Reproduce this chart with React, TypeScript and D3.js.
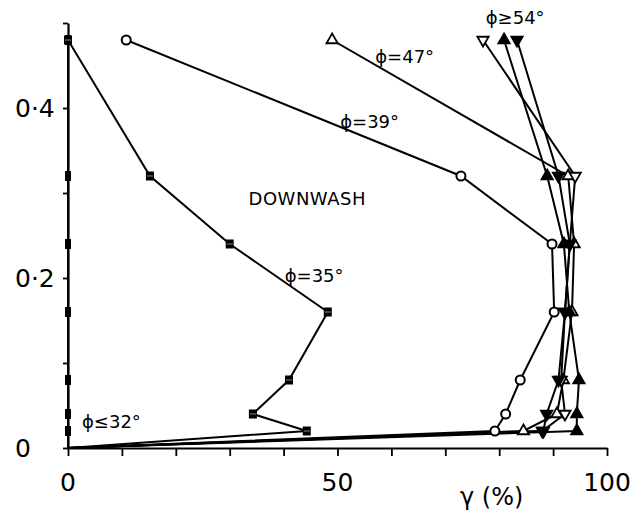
import { useEffect, useRef } from 'react'
import * as d3 from 'd3'

// gamma (%) against height, one list per series
const heights = [0.48, 0.32, 0.24, 0.16, 0.08, 0.04, 0.02, 0]
const phi32 = [0, 0, 0, 0, 0, 0, 0, 0]
const phi35 = [0, 15.2, 30, 48.2, 41, 34.3, 44.3, 0]
const phi39 = [10.8, 72.9, 89.8, 90.2, 83.9, 81.2, 79.2, 0]
const phi47 = [49, 92.8, 93.9, 93.5, 91.9, 90.7, 84.5, 0]
const phi54open = [77, 94.1, 93.1, 92.2, 91.5, 92.2, 88, 0]
const phi54up = [80.9, 88.9, 92, 93, 94.8, 94.4, 94.4, 0]
const phi54down = [83.3, 91, 93.1, 92.2, 91, 88.8, 88.2, 0]

const xTicks = [0, 10, 20, 30, 40, 50, 60, 70, 80, 90, 100]
const xLabels = [0, 50, 100]
const yTicks = [0, 0.1, 0.2, 0.3, 0.4, 0.5]
const yLabels = ['0', '0·2', '0·4']
const yLabelValues = [0, 0.2, 0.4]

type Marker = 'bar' | 'square' | 'circle' | 'triUp' | 'triDown' | 'triUpFill' | 'triDownFill'

const series: { values: number[]; marker: Marker }[] = [
  { values: phi32, marker: 'bar' },
  { values: phi35, marker: 'square' },
  { values: phi39, marker: 'circle' },
  { values: phi47, marker: 'triUp' },
  { values: phi54open, marker: 'triDown' },
  { values: phi54up, marker: 'triUpFill' },
  { values: phi54down, marker: 'triDownFill' },
]

const notes = [
  { text: 'ϕ≥54°', g: 77.5, h: 0.499 },
  { text: 'ϕ=47°', g: 57, h: 0.453 },
  { text: 'ϕ=39°', g: 50.5, h: 0.377 },
  { text: 'DOWNWASH', g: 33.5, h: 0.286 },
  { text: 'ϕ=35°', g: 40.2, h: 0.195 },
  { text: 'ϕ≤32°', g: 2.6, h: 0.023 },
]

const W = 631
const H = 517
const FONT = '"DejaVu Sans", sans-serif'

export default function App() {
  const ref = useRef<SVGSVGElement>(null)

  useEffect(() => {
    if (!ref.current) return
    const svg = d3.select(ref.current)
    svg.selectAll('*').remove()

    const x = d3.scaleLinear().domain([0, 100]).range([68, 607])
    const y = d3.scaleLinear().domain([0, 0.5]).range([448, 23])

    // axes
    const xAxis = svg
      .append('g')
      .attr('transform', `translate(0,${y(0)})`)
      .call(d3.axisBottom(x).tickValues(xTicks).tickSize(8).tickFormat(() => '').tickSizeOuter(0))
    xAxis.select('.domain').attr('stroke-width', 2.2)
    xAxis.selectAll('.tick line').attr('stroke-width', 1.8)

    const yAxis = svg
      .append('g')
      .attr('transform', `translate(${x(0)},0)`)
      .call(d3.axisLeft(y).tickValues(yTicks).tickSize(5).tickFormat(() => '').tickSizeOuter(0))
    yAxis.select('.domain').attr('stroke-width', 2.2)
    yAxis.selectAll('.tick line').attr('stroke-width', 1.8)

    svg
      .append('g')
      .selectAll('text')
      .data(xLabels)
      .join('text')
      .attr('x', (d) => x(d))
      .attr('y', 491)
      .attr('text-anchor', 'middle')
      .attr('font-family', FONT)
      .attr('font-size', 25)
      .text((d) => d)

    svg
      .append('g')
      .selectAll('text')
      .data(yLabelValues)
      .join('text')
      .attr('x', 15)
      .attr('y', (d) => y(d) + 9)
      .attr('font-family', FONT)
      .attr('font-size', 25)
      .text((_, i) => yLabels[i])

    svg
      .append('text')
      .attr('x', 460)
      .attr('y', 505)
      .attr('font-family', FONT)
      .attr('font-size', 24)
      .text('γ (%)')

    // lines
    const line = d3
      .line<number>()
      .x((d) => x(d))
      .y((_, i) => y(heights[i]))

    svg
      .append('g')
      .selectAll('path')
      .data(series)
      .join('path')
      .attr('d', (s) => line(s.values))
      .attr('fill', 'none')
      .attr('stroke', '#000')
      .attr('stroke-width', 2)

    // markers (not drawn at the wall point)
    const tri = d3.symbol().type(d3.symbolTriangle).size(55)()
    series.forEach((s) => {
      const g = svg.append('g')
      s.values.slice(0, heights.length - 1).forEach((v, i) => {
        const cx = x(v)
        const cy = y(heights[i])
        if (s.marker === 'bar') {
          g.append('rect').attr('x', cx - 3).attr('y', cy - 5).attr('width', 6).attr('height', 10).attr('fill', '#000')
        } else if (s.marker === 'square') {
          g.append('rect').attr('x', cx - 4).attr('y', cy - 4.5).attr('width', 8).attr('height', 9).attr('fill', '#000')
          g.append('line').attr('x1', cx - 3).attr('x2', cx + 3).attr('y1', cy).attr('y2', cy).attr('stroke', '#888').attr('stroke-width', 1)
        } else if (s.marker === 'circle') {
          g.append('circle').attr('cx', cx).attr('cy', cy).attr('r', 4.5).attr('fill', '#fff').attr('stroke', '#000').attr('stroke-width', 2)
        } else {
          const down = s.marker === 'triDown' || s.marker === 'triDownFill'
          const filled = s.marker === 'triUpFill' || s.marker === 'triDownFill'
          g.append('path')
            .attr('d', tri)
            .attr('transform', `translate(${cx},${cy}) rotate(${down ? 180 : 0})`)
            .attr('fill', filled ? '#000' : '#fff')
            .attr('stroke', '#000')
            .attr('stroke-width', 1.8)
        }
      })
    })

    // annotations
    svg
      .append('g')
      .selectAll('text')
      .data(notes)
      .join('text')
      .attr('x', (d) => x(d.g))
      .attr('y', (d) => y(d.h))
      .attr('font-family', FONT)
      .attr('font-size', (d) => (d.text === 'DOWNWASH' ? 18 : 18))
      .attr('letter-spacing', (d) => (d.text === 'DOWNWASH' ? 0.5 : 0))
      .text((d) => d.text)
  }, [])

  return (
    <svg
      ref={ref}
      width={W}
      height={H}
      style={{ position: 'absolute', left: 0, top: 0, display: 'block', background: '#fff' }}
    />
  )
}
